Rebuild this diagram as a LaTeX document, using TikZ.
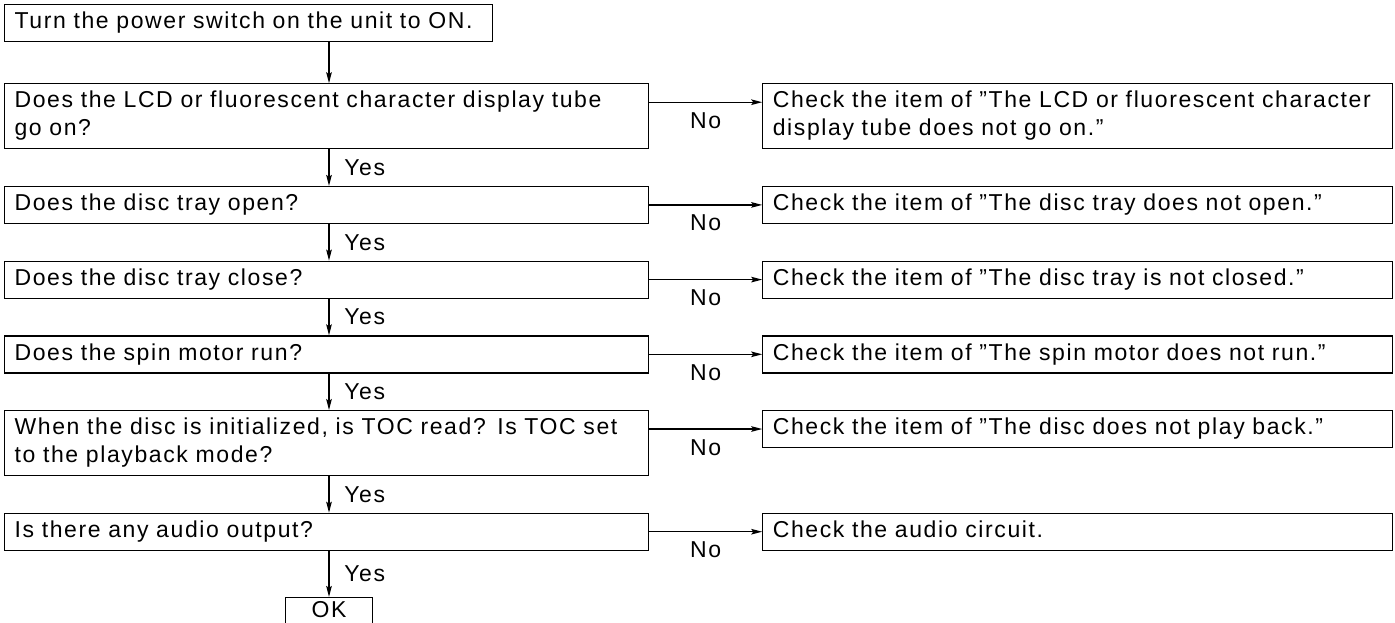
\documentclass[tikz,border=0pt]{standalone}
\usepackage{fontspec}
\setmainfont{Liberation Sans}[LetterSpace=7, WordSpace=1.8]
\usetikzlibrary{arrows.meta, positioning}

\begin{document}
\begin{tikzpicture}[
    x=0.5pt, y=-0.5pt,
    node distance=18.25pt and 56.5pt,
    every node/.style={font=\fontsize{11.5}{14}\selectfont},
    box/.style={rectangle, draw, line width=0.6pt, align=left, inner xsep=5pt, inner ysep=2.25pt,
        execute at begin node=\strut, execute at end node=\strut},
    qbox/.style={box, text width=312pt},
    ansbox/.style={box, text width=305pt},
    startbox/.style={box, text width=234pt},
    okbox/.style={rectangle, draw, line width=0.6pt, inner xsep=5pt, inner ysep=2pt,
        minimum width=43.5pt, text height=8pt, text depth=4pt},
    arr/.style={-{Stealth[length=5.5pt, width=2.8pt, inset=1pt]}, line width=0.6pt},
    yeslabel/.style={midway, right=4pt},
    nolabel/.style={midway, below=1.5pt}
]
\useasboundingbox (0,0) rectangle (1395,622);

% Fragen links
\node[startbox, anchor=north west] (q1) at (4,4) {Turn the power switch on the unit to ON.};
\node[qbox, below=20.5pt of q1.south west, anchor=north west] (q2) {Does the LCD or fluorescent character display tube\\go on?};
\node[qbox, below=of q2] (q3) {Does the disc tray open?};
\node[qbox, below=of q3] (q4) {Does the disc tray close?};
\node[qbox, below=of q4] (q5) {Does the spin motor run?};
\node[qbox, below=of q5] (q6) {When the disc is initialized, is TOC read? Is TOC set\\to the playback mode?};
\node[qbox, below=of q6] (q7) {Is there any audio output?};

% Antworten rechts
\node[ansbox, right=of q2.north east, anchor=north west] (r2) {Check the item of ''The LCD or fluorescent character\\display tube does not go on.''};
\node[ansbox, right=of q3.north east, anchor=north west] (r3) {Check the item of ''The disc tray does not open.''};
\node[ansbox, right=of q4.north east, anchor=north west] (r4) {Check the item of ''The disc tray is not closed.''};
\node[ansbox, right=of q5.north east, anchor=north west] (r5) {Check the item of ''The spin motor does not run.''};
\node[ansbox, right=of q6.north east, anchor=north west] (r6) {Check the item of ''The disc does not play back.''};
\node[ansbox, right=of q7.north east, anchor=north west] (r7) {Check the audio circuit.};

% Ende
\coordinate (axis) at (329,0);
\node[okbox, anchor=north, yshift=-23pt] (ok) at (q7.south -| axis) {OK};

% Pfeile
\draw[arr] (q1.south -| axis) -- (q2.north -| axis);
\foreach \a/\b in {q2/q3, q3/q4, q4/q5, q5/q6, q6/q7}
    \draw[arr] (\a.south -| axis) -- (\b.north -| axis) node[yeslabel] {Yes};
\draw[arr] (q7.south -| axis) -- (ok.north) node[yeslabel] {Yes};

\foreach \i in {2,...,7}
    \draw[arr] ([yshift=-9.5pt]q\i.north east) -- ([yshift=-9.5pt]r\i.north west) node[nolabel] {No};

\end{tikzpicture}
\end{document}
